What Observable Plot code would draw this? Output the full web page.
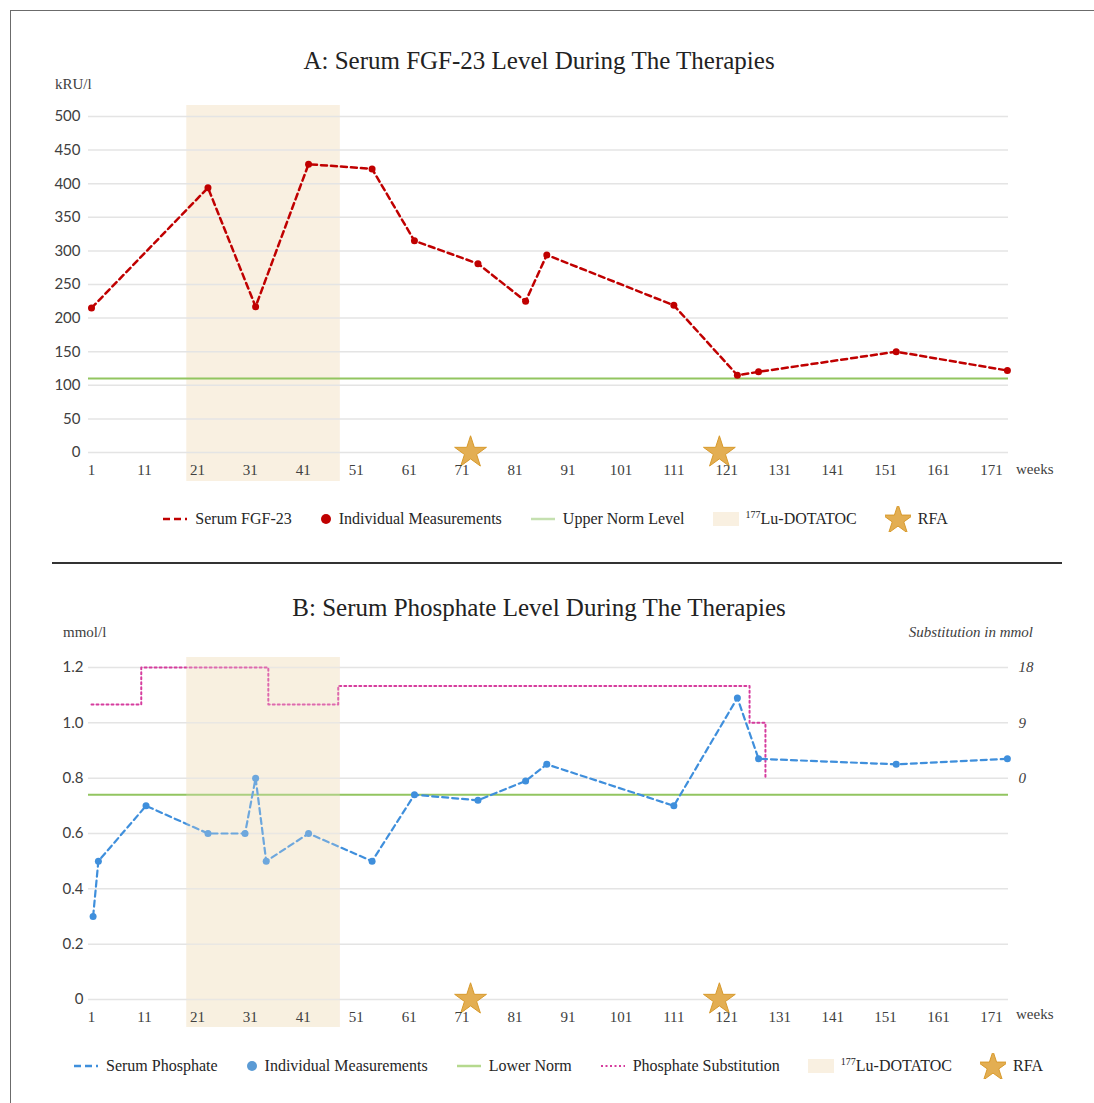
<!DOCTYPE html>
<html>
<head>
<meta charset="utf-8">
<script src="https://cdn.jsdelivr.net/npm/d3@7"></script>
<script src="https://cdn.jsdelivr.net/npm/@observablehq/plot@0.6"></script>
<style>
  body { margin: 0; background: #fff; font-family: "Liberation Serif", "DejaVu Serif", serif; }
  #page { position: relative; width: 1094px; height: 1103px; overflow: hidden; background: #fff; }
  #frame { position: absolute; left: 10px; top: 10px; width: 1100px; height: 1100px; border: 1px solid #6b6b6b; box-sizing: border-box; }
  .title { position: absolute; left: 0; width: 1078px; text-align: center; font-size: 25px; color: #222; line-height: 1; }
  .unit { position: absolute; font-size: 15px; color: #404040; line-height: 1; }
  .weeks { position: absolute; font-size: 15px; color: #404040; line-height: 1; }
  .chart { position: absolute; left: 0; }
  .legend { position: absolute; display: flex; align-items: center; justify-content: center; gap: 28px; font-size: 16px; color: #262626; line-height: 1; }
  .legend .item { display: flex; align-items: center; gap: 7px; white-space: nowrap; }
  .legend svg { display: block; }
  #sep { position: absolute; left: 52px; top: 562px; width: 1010px; height: 2px; background: #333; }
</style>
</head>
<body>
<div id="page">
  <div id="frame"></div>
  <div class="title" style="top:48px">A: Serum FGF-23 Level During The Therapies</div>
  <div class="unit" style="left:55px; top:77px">kRU/l</div>
  <div id="chartA" class="chart" style="top:0px"></div>
  <div class="weeks" style="left:1016px; top:462px">weeks</div>
  <div id="legendA" class="legend" style="left:8px; width:1094px; top:509px; height:20px"></div>
  <div id="sep"></div>
  <div class="title" style="top:595px">B: Serum Phosphate Level During The Therapies</div>
  <div class="unit" style="left:63px; top:625px">mmol/l</div>
  <div class="unit" style="left:880px; width:153px; text-align:right; top:625px; font-style:italic">Substitution in mmol</div>
  <div id="chartB" class="chart" style="top:550px"></div>
  <div class="weeks" style="left:1016px; top:1007px">weeks</div>
  <div id="legendB" class="legend" style="left:11px; width:1094px; top:1056px; height:20px"></div>
</div>
<script>
// ---------- data ----------
const weekTicks = [1, 11, 21, 31, 41, 51, 61, 71, 81, 91, 101, 111, 121, 131, 141, 151, 161, 171];
const fgfTicks = [0, 50, 100, 150, 200, 250, 300, 350, 400, 450, 500];
const phosTicks = [0, 0.2, 0.4, 0.6, 0.8, 1.0, 1.2];
const subTicks = [0, 9, 18];

const fgfWeeks = [1, 23, 32, 42, 54, 62, 74, 83, 87, 111, 123, 127, 153, 174];
const fgfValues = [215, 394, 217, 429, 422, 315, 281, 225, 294, 219, 115, 120, 150, 122];
const fgfUpperNorm = 110;

const phosWeeks = [1.3, 2.3, 11.3, 23, 30, 32, 34, 42, 54, 62, 74, 83, 87, 111, 123, 127, 153, 174];
const phosValues = [0.30, 0.50, 0.70, 0.60, 0.60, 0.80, 0.50, 0.60, 0.50, 0.74, 0.72, 0.79, 0.85, 0.70, 1.09, 0.87, 0.85, 0.87];
const phosLowerNorm = 0.74;

const subWeeks = [1, 10.4, 34.4, 47.6, 125.3, 128.3];
const subValues = [12, 18, 12, 15, 9, 0];

const therapyStart = [19];
const therapyEnd = [48];
const rfaWeeks = [72.6, 119.6];

// ---------- colors ----------
const cRed = "#c00000", cBlue = "#3f8fdc", cGreen = "#92c560", cPink = "#d63c9e",
      cBand = "#f9f0e1", cOrange = "#f2a43c", cStarFill = "#e3ae52", cStarStroke = "#d89a2c",
      cGrid = "#e4e4e4", cTick = "#404040";

const fgfData = fgfWeeks.map((w, i) => ({w, v: fgfValues[i]}));
const phosData = phosWeeks.map((w, i) => ({w, v: phosValues[i]}));
const subToPhos = s => 0.8 + s * (0.4 / 18);
const subData = subWeeks.map((w, i) => ({w, s: subValues[i]}));
const bands = therapyStart.map((s, i) => ({s, e: therapyEnd[i]}));

const xScale = {domain: [1, 171], range: [91, 991], axis: null};
const tickFont = "Lato, 'Open Sans', sans-serif";
const xFont = "'Liberation Serif', serif";
const starR = 10;

// ---------- Chart A ----------
const chartA = Plot.plot({
  width: 1094, height: 500,
  marginTop: 105, marginBottom: 19, marginLeft: 88, marginRight: 86,
  x: xScale,
  y: {domain: [0, 500], range: [452, 116]},
  style: {background: "transparent", overflow: "visible"},
  marks: [
    Plot.rect(bands, {x1: "s", x2: "e", fill: cBand}),
    Plot.gridY(fgfTicks, {stroke: cGrid, strokeOpacity: 1, strokeWidth: 1.5}),
    Plot.ruleY([fgfUpperNorm], {stroke: cGreen, strokeWidth: 2}),
    Plot.line(fgfData, {x: "w", y: "v", stroke: cRed, strokeWidth: 2.5, strokeDasharray: "6,4"}),
    Plot.dot(fgfData, {x: "w", y: "v", r: 3.5, fill: cRed}),
    Plot.ruleX(rfaWeeks, {y2: 0, stroke: cOrange, strokeWidth: 1.8, strokeDasharray: "1.5,1.5"}),
    Plot.dot(rfaWeeks, {x: d => d, y: 0, symbol: "star", r: starR, fill: cStarFill, stroke: cStarStroke, strokeWidth: 1}),
    Plot.axisY(fgfTicks, {tickSize: 0, tickPadding: 8, label: null, fontSize: 15, fontFamily: tickFont, fill: cTick}),
    Plot.text(weekTicks, {x: d => d, y: 0, dy: 18, text: d => String(d), fontSize: 15, fontFamily: xFont, fill: cTick})
  ]
});
document.getElementById("chartA").append(chartA);

// ---------- Chart B ----------
const chartB = Plot.plot({
  width: 1094, height: 500,
  marginTop: 107, marginBottom: 23, marginLeft: 88, marginRight: 86,
  x: xScale,
  y: {domain: [0, 1.2], range: [449, 117]},
  style: {background: "transparent", overflow: "visible"},
  marks: [
    Plot.rect(bands, {x1: "s", x2: "e", fill: cBand}),
    Plot.gridY(phosTicks, {stroke: cGrid, strokeOpacity: 1, strokeWidth: 1.5}),
    Plot.ruleY([phosLowerNorm], {stroke: cGreen, strokeWidth: 2}),
    Plot.line(subData, {x: "w", y: d => subToPhos(d.s), curve: "step-after", stroke: cPink, strokeWidth: 2, strokeDasharray: "2,3"}),
    Plot.line(phosData, {x: "w", y: "v", stroke: cBlue, strokeWidth: 2.2, strokeDasharray: "6,4"}),
    Plot.dot(phosData, {x: "w", y: "v", r: 3.5, fill: cBlue}),
    Plot.rect(bands, {x1: "s", x2: "e", fill: cBand, fillOpacity: 0.25}),
    Plot.ruleX(rfaWeeks, {y2: 0, stroke: cOrange, strokeWidth: 1.8, strokeDasharray: "1.5,1.5"}),
    Plot.dot(rfaWeeks, {x: d => d, y: 0, symbol: "star", r: starR, fill: cStarFill, stroke: cStarStroke, strokeWidth: 1}),
    Plot.axisY(phosTicks, {tickSize: 0, tickPadding: 5, label: null, fontSize: 15, fontFamily: tickFont, fill: cTick,
      tickFormat: d => d === 0 ? "0" : d.toFixed(1)}),
    Plot.axisY(subTicks.map(subToPhos), {anchor: "right", tickSize: 0, tickPadding: 10, label: null, fontSize: 15,
      fontFamily: xFont, fontStyle: "italic", fill: cTick, tickFormat: v => String(Math.round((v - 0.8) * 45))}),
    Plot.text(weekTicks, {x: d => d, y: 0, dy: 18, text: d => String(d), fontSize: 15, fontFamily: xFont, fill: cTick})
  ]
});
document.getElementById("chartB").append(chartB);

// ---------- legends ----------
const starPath = d3.symbol(d3.symbolStar, 9.5 * 9.5 * Math.PI)();
function sw(kind, color) {
  if (kind === "dash") return `<svg width="26" height="12"><line x1="1" y1="6" x2="25" y2="6" stroke="${color}" stroke-width="2.5" stroke-dasharray="7,4"/></svg>`;
  if (kind === "dot") return `<svg width="12" height="12"><circle cx="6" cy="6" r="5" fill="${color}"/></svg>`;
  if (kind === "line") return `<svg width="26" height="12"><line x1="1" y1="6" x2="25" y2="6" stroke="${color}" stroke-width="2.5"/></svg>`;
  if (kind === "dotted") return `<svg width="26" height="12"><line x1="1" y1="6" x2="25" y2="6" stroke="${color}" stroke-width="2" stroke-dasharray="2,2.5"/></svg>`;
  if (kind === "rect") return `<svg width="26" height="14"><rect x="0" y="0" width="26" height="14" fill="${color}"/></svg>`;
  if (kind === "star") return `<svg width="26" height="26"><path transform="translate(13,14)" d="${starPath}" fill="${cStarFill}" stroke="${cStarStroke}"/></svg>`;
}
const legendA = [
  ["dash", cRed, "Serum FGF-23"],
  ["dot", cRed, "Individual Measurements"],
  ["line", "#c5e0b0", "Upper Norm Level"],
  ["rect", cBand, "<sup style='font-size:10px'>177</sup>Lu-DOTATOC"],
  ["star", cStarFill, "RFA"]
];
const legendB = [
  ["dash", cBlue, "Serum Phosphate"],
  ["dot", "#5b9bd5", "Individual Measurements"],
  ["line", "#b5d98e", "Lower Norm"],
  ["dotted", cPink, "Phosphate Substitution"],
  ["rect", cBand, "<sup style='font-size:10px'>177</sup>Lu-DOTATOC"],
  ["star", cStarFill, "RFA"]
];
function fillLegend(id, items) {
  document.getElementById(id).innerHTML = items.map(([k, c, t]) =>
    `<div class="item">${sw(k, c)}<span>${t}</span></div>`).join("");
}
fillLegend("legendA", legendA);
fillLegend("legendB", legendB);
</script>
</body>
</html>
